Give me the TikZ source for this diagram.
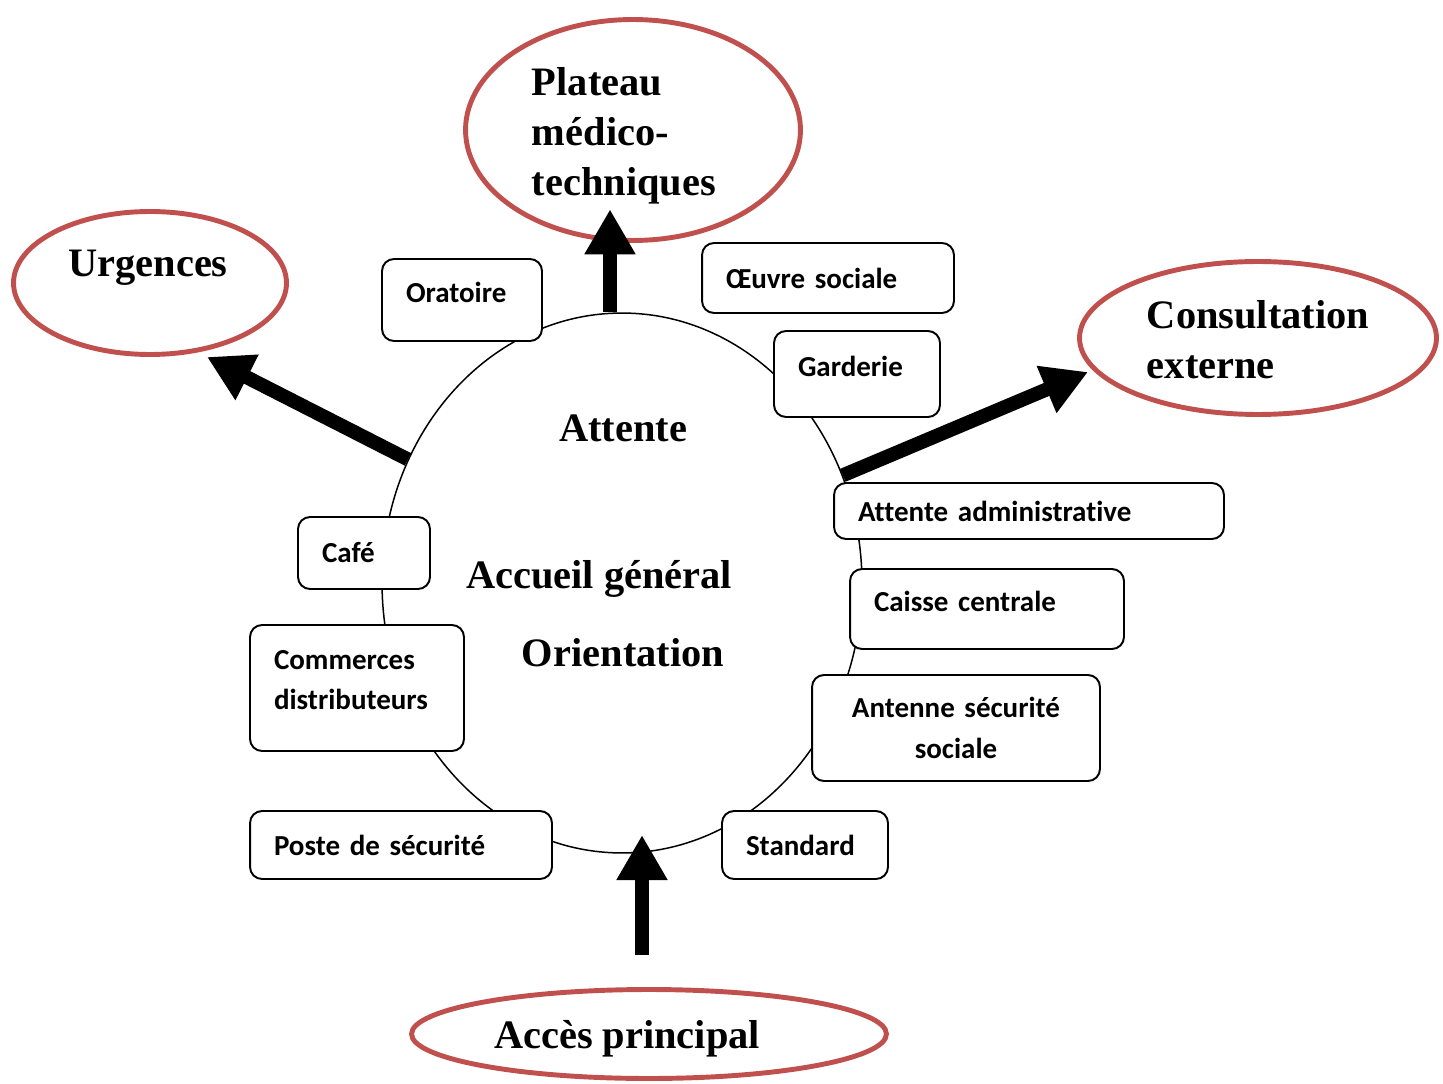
\documentclass[tikz,border=0pt]{standalone}
\usepackage{fontspec}
\setmainfont{Liberation Serif}
\newfontfamily\kotakfont[Ligatures={NoCommon,NoContextual}]{Carlito}
\usetikzlibrary{arrows.meta,shapes.geometric}
\definecolor{merahbata}{RGB}{192,80,77}

\tikzset{
  zona/.style={ellipse, draw=merahbata, line width=2.8pt, inner sep=0pt},
  judul/.style={font=\fontsize{23}{28.5}\selectfont\bfseries, align=left, inner sep=0pt},
  kotak/.style={draw, fill=white, line width=1.1pt, rounded corners=0.24cm,
    inner xsep=0.48cm, inner ysep=0pt, align=left,
    font=\kotakfont\fontsize{16.5}{23.3}\selectfont\bfseries},
  naik/.style={execute at end node={\rule[-0.32cm]{0pt}{0pt}}},
  panah/.style={line width=0.28cm, -{Triangle[width=0.96cm,length=0.9cm]}},
}

\begin{document}
\begin{tikzpicture}[x=0.02cm, y=-0.02cm]
\useasboundingbox (0,0) rectangle (1443,1084);

% Gambar lingkaran hall di tengah
\node[ellipse, draw, line width=0.85pt, minimum width=9.6cm, minimum height=10.8cm, inner sep=0pt] (hall) at (622,583) {};

% Zona-zona luar (elips merah)
\node[zona, minimum width=6.7cm, minimum height=4.42cm] (plateau) at (633,130) {};
\node[zona, minimum width=5.46cm, minimum height=2.86cm] (urgences) at (150,283) {};
\node[zona, minimum width=7.14cm, minimum height=3.06cm] (konsul) at (1258,338) {};
\node[zona, minimum width=9.5cm, minimum height=1.78cm] (akses) at (649,1034) {};

% Label zona
\node[judul] (plateau-t) at (624,136) {Plateau\\médico-\\techniques};
\node[judul, anchor=base] (urgences-t) at (148,277) {Urgences};
\node[judul] (konsul-t) at (1258,340) {Consultation\\externe};
\node[judul, anchor=base] (akses-t) at (627,1048) {Accès principal};

% Label di dalam hall
\node[judul, anchor=base] (attente) at (623,441) {Attente};
\node[judul, anchor=base] (accueil) at (599,588) {Accueil général};
\node[judul, anchor=base] (orient) at (623,666) {Orientation};

% Kotak-kotak di sekeliling hall
\node[kotak, naik, text width=2.24cm, minimum height=1.64cm] (oratoire) at (462,300) {Oratoire};
\node[kotak, text width=4.08cm, minimum height=1.4cm] (oeuvre) at (828,278) {Œuvre sociale};
\node[kotak, naik, text width=2.36cm, minimum height=1.72cm] (garderie) at (857,374) {Garderie};
\node[kotak, text width=6.84cm, minimum height=1.12cm] (admin) at (1029,511) {Attente administrative};
\node[kotak, naik, text width=4.52cm, minimum height=1.6cm] (caisse) at (987,609) {Caisse centrale};
\node[kotak, text width=4.8cm, minimum height=2.12cm, align=center] (antenne) at (956,728) {Antenne sécurité\\sociale};
\node[kotak, text width=2.36cm, minimum height=1.36cm] (standard) at (805,845) {Standard};
\node[kotak, text width=5.08cm, minimum height=1.36cm] (poste) at (401,845) {Poste de sécurité};
\node[kotak, naik, text width=3.32cm, minimum height=2.52cm] (commerces) at (357,688) {Commerces\\distributeurs};
\node[kotak, text width=1.68cm, minimum height=1.44cm] (cafe) at (364,553) {Café};

% Titik ujung panah
\coordinate (ujung-urg) at (207,357);
\coordinate (ujung-kons) at (1088,372);

% Panah tebal
\draw[panah] (hall.north) ++(-12,0) -- ++(0,-103);
\draw[panah] (hall.150) -- (ujung-urg);
\draw[panah] (hall.26) -- (ujung-kons);
\draw[panah] (akses.north) ++(-7,-32) -- ++(0,-120);
\end{tikzpicture}
\end{document}
